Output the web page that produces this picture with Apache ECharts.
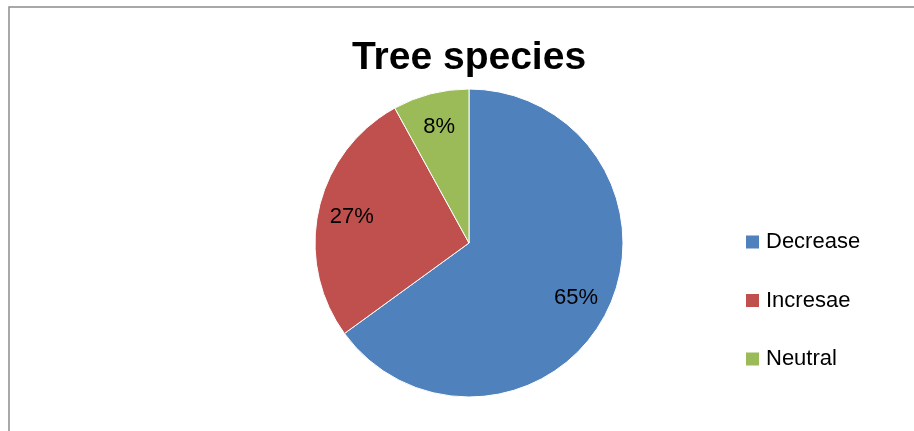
<!DOCTYPE html>
<html>
<head>
<meta charset="utf-8">
<script src="https://cdn.jsdelivr.net/npm/echarts@6/dist/echarts.min.js"></script>
<style>
  html, body { margin: 0; padding: 0; background: #fff; }
  #chart { width: 914px; height: 431px; }
</style>
</head>
<body>
<div id="chart"></div>
<script>
// Share of tree species by trend
const categories = ['Decrease', 'Incresae', 'Neutral'];
const shares = [65, 27, 8];
const colors = ['#4F81BD', '#C0504D', '#9BBB59'];

const pieData = categories.map((name, i) => ({
  name: name,
  value: shares[i],
  itemStyle: { color: colors[i] }
}));

const center = [469, 243];
const radius = 154;

const chart = echarts.init(document.getElementById('chart'), null, { renderer: 'canvas' });
chart.setOption({
  animation: false,
  backgroundColor: '#ffffff',
  title: {
    text: 'Tree species',
    left: 469,
    top: 39,
    padding: 0,
    textAlign: 'center',
    textStyle: {
      fontFamily: 'Liberation Sans',
      fontWeight: 'bold',
      fontSize: 39,
      color: '#000'
    }
  },
  legend: {
    orient: 'vertical',
    left: 744,
    top: 231,
    padding: 0,
    itemWidth: 15,
    itemHeight: 15,
    itemGap: 36.5,
    icon: 'rect',
    data: categories,
    textStyle: { fontFamily: 'Liberation Sans', fontSize: 22, color: '#000', padding: [0, 0, 0, 1] }
  },
  graphic: [{
    type: 'rect',
    shape: { x: 9, y: 7, width: 1000, height: 1000 },
    style: { fill: 'none', stroke: '#8c8c8c', lineWidth: 1.5 },
    silent: true
  }],
  series: [
    {
      type: 'pie',
      center: center,
      radius: [0, radius],
      startAngle: 90,
      clockwise: true,
      data: pieData,
      label: { show: false },
      labelLine: { show: false },
      itemStyle: { borderColor: '#ffffff', borderWidth: 1 },
      emphasis: { disabled: true }
    },
    {
      // transparent ring used only to place the percentage labels
      type: 'pie',
      center: center,
      radius: [radius * 0.52, radius],
      startAngle: 90,
      clockwise: true,
      silent: true,
      legendHoverLink: false,
      data: pieData.map(d => ({ name: d.name, value: d.value })),
      itemStyle: { color: 'rgba(0,0,0,0)' },
      label: {
        show: true,
        position: 'inside',
        formatter: p => p.value + '%',
        fontFamily: 'Liberation Sans',
        fontSize: 22,
        color: '#000'
      },
      labelLine: { show: false },
      emphasis: { disabled: true }
    }
  ]
});
</script>
</body>
</html>
